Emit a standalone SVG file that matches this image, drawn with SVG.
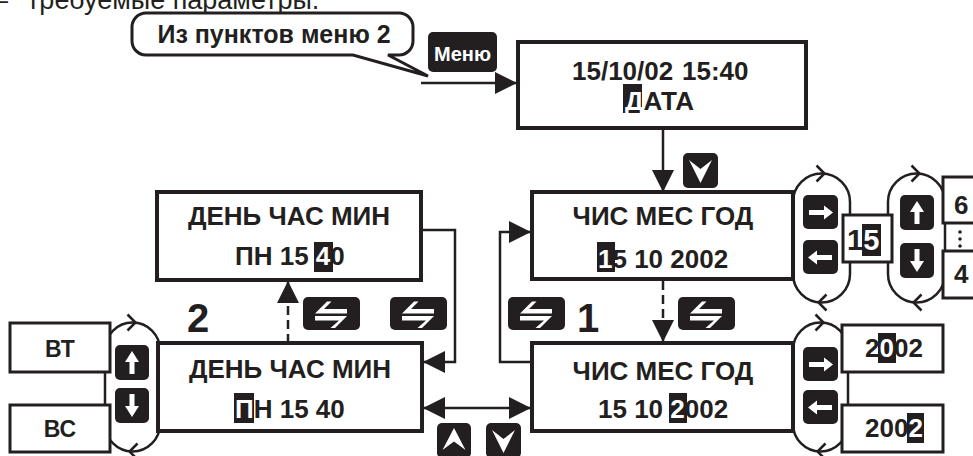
<svg xmlns="http://www.w3.org/2000/svg" width="973" height="456" viewBox="0 0 973 456">
<style>
text { font-family: "Liberation Sans", Arial, sans-serif; fill:#231f20; }
.b { font-weight:bold; font-size:26px; }
.m { text-anchor:middle; }
.box { fill:#fff; stroke:#231f20; stroke-width:4; }
.sbox { fill:#fff; stroke:#231f20; stroke-width:3; }
.btn { fill:#231f20; }
.ic { fill:#fff; }
.hl { fill:#231f20; }
.ln { fill:none; stroke:#231f20; stroke-width:2.5; }
.dash { stroke-dasharray:9 5; }
.cap { fill:none; stroke:#231f20; stroke-width:2.5; }
</style>
<defs>
<marker id="ah" markerUnits="userSpaceOnUse" markerWidth="22" markerHeight="22" viewBox="0 0 22 22" refX="22" refY="11" orient="auto-start-reverse"><path d="M0,0 L22,11 L0,22 z" fill="#231f20"/></marker>
<g id="i-swap"><rect width="57" height="33" rx="5" class="btn"/><polygon class="ic" points="12,16.5 24,4.5 28.5,4.5 21,12 44,12 44,16.5"/><polygon class="ic" points="12,19 44,19 32,31 27.5,31 36,23.5 12,23.5"/></g>
<g id="i-down"><rect width="35" height="35" rx="5" class="btn"/><polygon class="ic" points="6,7 17.5,16 29,7 17.5,30"/></g>
<g id="i-up"><rect width="34" height="35" rx="5" class="btn"/><polygon class="ic" points="17,5 28.5,27 17,18.5 5.5,27"/></g>
<g id="i-right"><rect width="35" height="34" rx="5" class="btn"/><rect class="ic" x="6" y="15" width="16" height="5"/><polygon class="ic" points="21,10.5 30,17.5 21,24.5"/></g>
<g id="i-left"><rect width="35" height="34" rx="5" class="btn"/><rect class="ic" x="13" y="15" width="16" height="5"/><polygon class="ic" points="14,10.5 5,17.5 14,24.5"/></g>
<g id="i-aup"><rect width="34" height="35" rx="5" class="btn"/><rect class="ic" x="14.5" y="15" width="5" height="14"/><polygon class="ic" points="10,17 17,6 24,17"/></g>
<g id="i-adown"><rect width="34" height="35" rx="5" class="btn"/><rect class="ic" x="14.5" y="6" width="5" height="14"/><polygon class="ic" points="10,18 17,29 24,18"/></g>
</defs>

<g id="heading">
<text x="-7" y="9" style="font-size:27px">–</text>
<text x="27" y="9" style="font-size:27px">требуемые параметры.</text>
</g>

<g id="loops">
<path class="cap" d="M793,202 A28.5,28.5 0 0 1 850,202 V274 A28.5,28.5 0 0 1 793,274 Z"/>
<polyline class="cap" points="816.5,165.5 824.5,173.5 816.5,181.5"/>
<polyline class="cap" points="826.5,294.5 818.5,302.5 826.5,310.5"/>
<path class="cap" d="M888,202 A28.5,28.5 0 0 1 945,202 V274 A28.5,28.5 0 0 1 888,274 Z"/>
<polyline class="cap" points="911.5,165.5 919.5,173.5 911.5,181.5"/>
<polyline class="cap" points="921.5,294.5 913.5,302.5 921.5,310.5"/>
<path class="cap" d="M793,350 A27.5,27.5 0 0 1 848,350 V424 A27.5,27.5 0 0 1 793,424 Z"/>
<polyline class="cap" points="815.5,314.5 823.5,322.5 815.5,330.5"/>
<polyline class="cap" points="825.5,443.5 817.5,451.5 825.5,459.5"/>
<path class="cap" d="M105,350 A27.5,27.5 0 0 1 160,350 V424 A27.5,27.5 0 0 1 105,424 Z"/>
<polyline class="cap" points="127.5,314.5 135.5,322.5 127.5,330.5"/>
<polyline class="cap" points="137.5,443.5 129.5,451.5 137.5,459.5"/>
</g>

<g id="connectors">
<line class="ln" x1="421" y1="83" x2="517" y2="83" stroke-width="3" marker-end="url(#ah)"/>
<line class="ln" x1="663" y1="128" x2="663" y2="192" marker-end="url(#ah)"/>
<line class="ln dash" x1="663" y1="281" x2="663" y2="342" marker-end="url(#ah)"/>
<path class="ln" d="M532,362 H500 V232 H531" marker-end="url(#ah)"/>
<path class="ln" d="M421,230 H455 V362 H423" marker-end="url(#ah)"/>
<line class="ln dash" x1="288" y1="343" x2="288" y2="281" marker-end="url(#ah)"/>
<line class="ln" x1="423" y1="408" x2="531" y2="408" marker-start="url(#ah)" marker-end="url(#ah)"/>
</g>

<g id="callout">
<path fill="#fff" stroke="#231f20" stroke-width="3" d="M146,13 H399 A14,14 0 0 1 413,27 V41 A14,14 0 0 1 399,55 H388 L428,76 L353,55 H146 A14,14 0 0 1 132,41 V27 A14,14 0 0 1 146,13 Z"/>
<text class="b m" x="274" y="43" style="font-size:25px">Из пунктов меню 2</text>
</g>

<g id="btn-menu">
<rect x="428" y="32" width="69" height="40" rx="5" class="btn"/>
<text class="m" x="462.5" y="61" font-weight="bold" style="fill:#fff;font-size:20px">Меню</text>
</g>

<g id="n-date">
<rect class="box" x="518" y="42" width="288" height="86"/>
<text class="b" x="572" y="80">15/10/02</text>
<text class="b" x="682" y="80">15:40</text>
<rect class="hl" x="623" y="84" width="19" height="29"/>
<text class="b" x="625" y="110"><tspan style="fill:#fff">Д</tspan>АТА</text>
</g>

<g id="n-dmy1">
<rect class="box" x="532" y="192" width="261" height="87"/>
<text class="b m" x="663" y="225">ЧИС МЕС ГОД</text>
<rect class="hl" x="597" y="242" width="18" height="30"/>
<text class="b" x="598" y="268"><tspan style="fill:#fff">1</tspan>5 10 2002</text>
</g>

<g id="n-dmy2">
<rect class="box" x="532" y="343" width="261" height="88"/>
<text class="b m" x="663" y="380">ЧИС МЕС ГОД</text>
<rect class="hl" x="669" y="393" width="18" height="30"/>
<text class="b" x="598" y="418">15 10 <tspan style="fill:#fff">2</tspan>002</text>
</g>

<g id="n-dhm1">
<rect class="box" x="157" y="192" width="264" height="88"/>
<text class="b m" x="289" y="225">ДЕНЬ ЧАС МИН</text>
<rect class="hl" x="314" y="242" width="19" height="30"/>
<text class="b" x="235" y="265">ПН 15 <tspan style="fill:#fff">4</tspan>0</text>
</g>

<g id="n-dhm2">
<rect class="box" x="158" y="343" width="264" height="88"/>
<text class="b m" x="290" y="378">ДЕНЬ ЧАС МИН</text>
<rect class="hl" x="234" y="393" width="20" height="30"/>
<text class="b" x="235" y="418"><tspan style="fill:#fff">П</tspan>Н 15 40</text>
</g>

<g id="n-15">
<rect class="sbox" x="843" y="215" width="49" height="47"/>
<rect class="hl" x="862" y="224" width="19" height="32"/>
<text class="b" x="847" y="250" style="font-size:29px">1<tspan style="fill:#fff">5</tspan></text>
</g>

<g id="n-6">
<rect class="sbox" x="943" y="177" width="40" height="46"/>
<text class="b" x="954" y="214">6</text>
</g>
<g id="n-dots">
<circle cx="960" cy="232" r="1.8" fill="#231f20"/>
<circle cx="960" cy="239" r="1.8" fill="#231f20"/>
<circle cx="960" cy="246" r="1.8" fill="#231f20"/>
</g>
<g id="n-4">
<rect class="sbox" x="943" y="251" width="40" height="47"/>
<text class="b" x="954" y="283">4</text>
</g>

<g id="n-2002a">
<rect class="sbox" x="842" y="325" width="101" height="47"/>
<rect class="hl" x="878" y="333" width="18" height="30"/>
<text class="b" x="865" y="357">2<tspan style="fill:#fff">0</tspan>02</text>
</g>
<g id="n-2002b">
<rect class="sbox" x="842" y="405" width="101" height="47"/>
<rect class="hl" x="907" y="413" width="17" height="30"/>
<text class="b" x="865" y="437">200<tspan style="fill:#fff">2</tspan></text>
</g>

<g id="n-vt">
<rect class="sbox" x="10" y="323" width="100" height="49"/>
<text class="b m" x="60" y="357" style="font-size:23px">ВТ</text>
</g>
<g id="n-vs">
<rect class="sbox" x="10" y="405" width="100" height="47"/>
<text class="b m" x="60" y="437" style="font-size:23px">ВС</text>
</g>

<g id="labels">
<text class="b" x="187" y="332" style="font-size:40px">2</text>
<text class="b" x="577" y="332" style="font-size:40px">1</text>
</g>

<g id="buttons">
<use href="#i-down" x="683" y="153"/>
<use href="#i-swap" x="303" y="297"/>
<use href="#i-swap" x="390" y="297"/>
<use href="#i-swap" x="508" y="297"/>
<use href="#i-swap" x="678" y="297"/>
<use href="#i-up" x="437" y="423"/>
<use href="#i-down" x="486" y="423"/>
<use href="#i-right" x="803" y="195"/>
<use href="#i-left" x="803" y="240"/>
<use href="#i-right" x="803" y="347"/>
<use href="#i-left" x="803" y="390"/>
<use href="#i-aup" x="900" y="195"/>
<use href="#i-adown" x="900" y="243"/>
<use href="#i-aup" x="115" y="345"/>
<use href="#i-adown" x="115" y="388"/>
</g>
</svg>
